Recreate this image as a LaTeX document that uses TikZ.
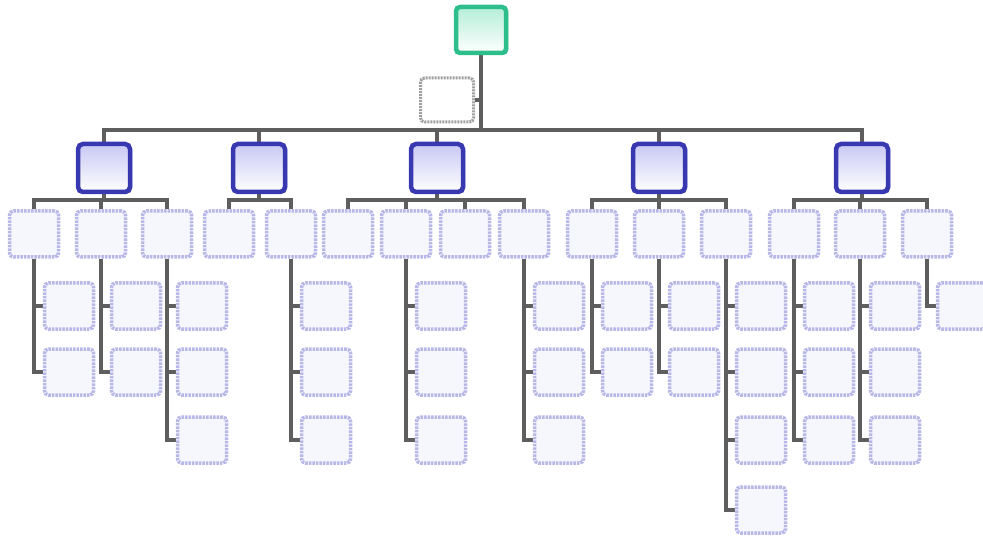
\documentclass[tikz,border=0pt]{standalone}
\usetikzlibrary{backgrounds,shadows,calc}
\definecolor{topc}{HTML}{2DBE8C}
\definecolor{topfill}{HTML}{B4EED8}
\definecolor{l1c}{HTML}{3838B0}
\definecolor{l1fill}{HTML}{C8C8F4}
\definecolor{leafc}{HTML}{B8B8E8}
\definecolor{leaffill}{HTML}{F6F6FD}
\definecolor{connc}{HTML}{5E5E5E}
\definecolor{asstc}{HTML}{A0A0A0}
\begin{document}
\begin{tikzpicture}[x=1pt,y=-1pt,
  topbox/.style={draw=topc, line width=4.5pt, rounded corners=4pt, top color=topfill, bottom color=white,
    minimum width=50pt, minimum height=46pt, inner sep=0pt, drop shadow={shadow xshift=2pt, shadow yshift=-1.5pt, fill=topc!80!black, opacity=0.8}},
  asstbox/.style={draw=asstc, line width=3pt, dash pattern=on 2pt off 1pt, rounded corners=4pt, fill=white,
    minimum width=53pt, minimum height=44pt, inner sep=0pt},
  l1box/.style={draw=l1c, line width=4.5pt, rounded corners=5pt, top color=l1fill, bottom color=white,
    minimum width=52pt, minimum height=48pt, inner sep=0pt, drop shadow={shadow xshift=2pt, shadow yshift=-1.5pt, fill=l1c!70!black, opacity=0.8}},
  leafbox/.style={draw=leafc, line width=3.5pt, dash pattern=on 2.5pt off 1pt, rounded corners=4pt, fill=leaffill,
    minimum width=49pt, minimum height=46pt, inner sep=0pt},
  conn/.style={draw=connc, line width=3.2pt}]
\useasboundingbox (0,0) rectangle (983,540);

% top and assistant
\node[topbox] (ceo) at (481,30) {};
\node[asstbox] (asst) at (447,100) {};

% level 1
\foreach \g/\x in {g1/104, g2/259, g3/437, g4/659, g5/862}{
  \node[l1box] (\g) at (\x,168) {};
  \coordinate (b\g) at (\x,200);
}
\coordinate (tb) at (481,130);

% level 2 and leaves
\foreach \p/\x/\n in {c11/34/2, c12/101/2, c13/167/3,
                      c21/229/0, c22/291/3,
                      c31/348/0, c32/406/3, c33/465/0, c34/524/3,
                      c41/592/2, c42/659/2, c43/726/4,
                      c51/794/3, c52/860/3, c53/927/1}{
  \node[leafbox] (\p) at (\x,234) {};
  \ifnum\n>0
    \foreach \r in {1,...,\n}{
      \pgfmathsetmacro\yy{{306,372,440,510}[\r-1]}
      \pgfmathsetmacro\xx{\x+35}
      \node[leafbox] (\p-\r) at (\xx,\yy) {};
    }
  \fi
}

\begin{pgfonlayer}{background}
  \draw[conn] (ceo.south) -- (tb);
  \draw[conn] (asst.east) -- (asst.east -| ceo.south);
  \foreach \g in {g1,g2,g3,g4,g5}{
    \draw[conn] (tb) -| (\g.north);
    \draw[conn] (\g.south) -- (b\g);
  }
  \foreach \g/\p in {g1/c11, g1/c12, g1/c13, g2/c21, g2/c22,
                     g3/c31, g3/c32, g3/c33, g3/c34,
                     g4/c41, g4/c42, g4/c43, g5/c51, g5/c52, g5/c53}{
    \draw[conn] (b\g) -| (\p.north);
  }
  \foreach \p/\n in {c11/2, c12/2, c13/3, c22/3, c32/3, c34/3,
                     c41/2, c42/2, c43/4, c51/3, c52/3, c53/1}{
    \foreach \r in {1,...,\n}{
      \draw[conn] (\p.south) |- (\p-\r.west);
    }
  }
\end{pgfonlayer}
\end{tikzpicture}
\end{document}
